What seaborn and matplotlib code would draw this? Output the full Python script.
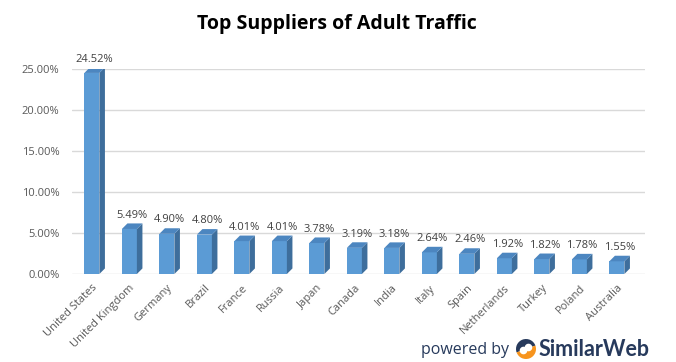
import matplotlib
matplotlib.use("Agg")
import matplotlib.pyplot as plt
from matplotlib.patches import Polygon, Wedge
import seaborn as sns
import pandas as pd

countries = ["United States", "United Kingdom", "Germany", "Brazil", "France",
             "Russia", "Japan", "Canada", "India", "Italy", "Spain",
             "Netherlands", "Turkey", "Poland", "Australia"]
shares = [24.52, 5.49, 4.90, 4.80, 4.01, 4.01, 3.78, 3.19, 3.18, 2.64,
          2.46, 1.92, 1.82, 1.78, 1.55]
yticks = [0, 5, 10, 15, 20, 25]

front = "#5B9BD5"
side = "#3E6E9C"
top = "#4C86C0"

sns.set_theme(style="white")
plt.rcParams["font.family"] = ["Open Sans", "DejaVu Sans"]

df = pd.DataFrame({"country": countries, "share": shares})

fig = plt.figure(figsize=(6.76, 3.62), dpi=100)
ax = fig.add_axes([72 / 676, (362 - 274) / 362, (645 - 72) / 676, (274 - 69) / 362])

sns.barplot(data=df, x="country", y="share", color=front, saturation=1,
            width=0.4, ax=ax, zorder=3, edgecolor="none", linewidth=0)

ax.set_xlim(-0.53, 14.75)
ax.set_ylim(0, 25)

# fake 3d depth on each bar, offset in pixels
sh = fig.dpi_scale_trans.transform((4 / 72, 4 / 72)) - fig.dpi_scale_trans.transform((0, 0))
for p in list(ax.patches):
    x0, y0 = p.get_x(), p.get_y()
    x1, y1 = x0 + p.get_width(), y0 + p.get_height()
    pts = ax.transData.transform([(x1, y0), (x1, y1)])
    tl = ax.transData.transform((x0, y1))
    ax.add_patch(Polygon([pts[0], pts[1], pts[1] + sh, pts[0] + sh], closed=True,
                         transform=None, facecolor=side, edgecolor="none", zorder=3))
    ax.add_patch(Polygon([tl, pts[1], pts[1] + sh, tl + sh], closed=True,
                         transform=None, facecolor=top, edgecolor="none", zorder=3))

for i, v in enumerate(shares):
    ax.annotate(f"{v:.2f}%", (i, v), xytext=(2, 6), textcoords="offset points",
                ha="center", va="bottom", fontsize=8, color="#404040",
                annotation_clip=False)

for t in yticks:
    ax.axhline(t, color="#D9D9D9", lw=1, zorder=1)

ax.set_yticks(yticks)
ax.set_yticklabels([f"{t:.2f}%" for t in yticks], fontsize=8, color="#595959")
ax.set_xticks(range(len(countries)))
ax.set_xticklabels(countries, rotation=45, ha="right", rotation_mode="anchor",
                   fontsize=8, color="#595959")
ax.tick_params(axis="y", length=0, pad=9)
ax.tick_params(axis="x", length=0, pad=6)
ax.set_xlabel("")
ax.set_ylabel("")
for s in ax.spines.values():
    s.set_visible(False)

fig.text(337 / 676, 1 - 24 / 362, "Top Suppliers of Adult Traffic", ha="center",
         va="center", fontsize=14, fontweight="bold", color="black")

navy = "#273A5C"
fig.text(421 / 676, 1 - 350 / 362, "powered by", ha="left", va="center",
         fontsize=11.5, color=navy)
fig.text(539 / 676, 1 - 349 / 362, "SimilarWeb", ha="left", va="center",
         fontsize=15.5, fontweight="bold", color=navy, family=["Lato", "DejaVu Sans"])

# logo
lax = fig.add_axes([514 / 676, 1 - 360 / 362, 24 / 676, 22 / 362])
lax.set_aspect("equal")
lax.set_xlim(-1.1, 1.1)
lax.set_ylim(-1.1, 1.1)
lax.axis("off")
lax.add_patch(Wedge((0, 0), 1, 20, 200, facecolor=navy, edgecolor="none"))
lax.add_patch(Wedge((0, 0), 1, 200, 380, facecolor="#F7941D", edgecolor="none"))
lax.add_patch(Wedge((0.25, 0.15), 0.38, 0, 360, facecolor="white", edgecolor="none"))
lax.add_patch(Wedge((-0.25, -0.15), 0.38, 0, 360, facecolor="white", edgecolor="none"))

fig.savefig("out.png", dpi=100, facecolor="white")
